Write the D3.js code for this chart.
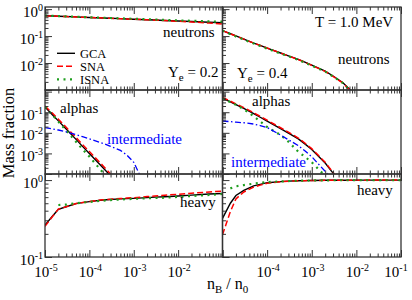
<!DOCTYPE html>
<html>
<head>
<meta charset="utf-8">
<script src="https://cdn.jsdelivr.net/npm/d3@7"></script>
<style>
  body { margin: 0; background: #fff; }
  svg { display: block; }
  text { font-family: "Liberation Serif", "Times New Roman", serif; fill: #000; }
</style>
</head>
<body>
<div id="chart"></div>
<script>
// nB / n0 sample points shared by every curve (curves may stop early)
const nGrid = [1e-5, 1.5e-5, 2e-5, 3e-5, 5e-5, 7e-5, 1e-4, 2e-4, 3e-4, 5e-4, 7e-4,
               1e-3, 2e-3, 3e-3, 5e-3, 1e-2, 2e-2, 5e-2, 1e-1];

// Ye = 0.2
const neutronGCA02  = [0.57, 0.556, 0.545, 0.531, 0.514, 0.502, 0.491, 0.47, 0.457, 0.443, 0.433, 0.423, 0.405, 0.394, 0.381, 0.365, 0.348, 0.328, 0.314];
const neutronSNA02  = [0.57, 0.556, 0.545, 0.531, 0.514, 0.502, 0.491, 0.47, 0.457, 0.443, 0.433, 0.423, 0.403, 0.39, 0.375, 0.355, 0.335, 0.305, 0.281];
const neutronISNA02 = [0.575, 0.562, 0.552, 0.538, 0.522, 0.51, 0.5, 0.48, 0.468, 0.455, 0.445, 0.437, 0.42, 0.41, 0.398, 0.383, 0.369, 0.352, 0.342];
const alphaGCA02  = [0.178, 0.072, 0.038, 0.0152, 0.0048, 0.0022, 0.00099, 0.000206, 0.000082];
const alphaSNA02  = [0.20, 0.086, 0.046, 0.0185, 0.0059, 0.0027, 0.00123, 0.00026, 0.0001];
const alphaISNA02 = [0.178, 0.070, 0.035, 0.013, 0.0037, 0.0016, 0.0007, 0.00012, 0.00004];
const interGCA02  = [0.018, 0.0153, 0.0137, 0.0112, 0.0081, 0.0065, 0.0051, 0.0031, 0.0022, 0.0014, 0.00083, 0.00037, 0.000016];
const heavyGCA02  = [0.26, 0.344, 0.417, 0.45, 0.495, 0.509, 0.525, 0.552, 0.56, 0.569, 0.574, 0.579, 0.592, 0.60, 0.608, 0.622, 0.638, 0.659, 0.668];
const heavySNA02  = [0.25, 0.34, 0.42, 0.45, 0.495, 0.51, 0.525, 0.555, 0.565, 0.575, 0.583, 0.59, 0.61, 0.62, 0.635, 0.655, 0.675, 0.70, 0.72];
const heavyISNA02 = [null, null, 0.474, 0.48, 0.50, 0.51, 0.52, 0.54, 0.55, 0.56, 0.565, 0.57, 0.58, 0.585, 0.59, 0.605, 0.62, 0.64, 0.66];

// Ye = 0.4
const neutronGCA04  = [0.160, 0.122, 0.101, 0.077, 0.055, 0.045, 0.036, 0.0236, 0.0185, 0.0136, 0.0108, 0.0083, 0.0050, 0.0033, 0.00186, 0.0006];
const neutronSNA04  = [0.160, 0.122, 0.101, 0.077, 0.055, 0.045, 0.036, 0.0236, 0.0184, 0.0135, 0.0107, 0.0082, 0.0049, 0.0032, 0.0018, 0.00057];
const neutronISNA04 = [0.157, 0.118, 0.097, 0.074, 0.053, 0.043, 0.034, 0.0225, 0.0178, 0.0131, 0.0104, 0.0080, 0.0048, 0.0032, 0.0018, 0.00057];
const alphaGCA04  = [0.48, 0.315, 0.232, 0.152, 0.086, 0.057, 0.037, 0.016, 0.0097, 0.0051, 0.0029, 0.00154, 0.00034, 0.00011, 0.000025];
const alphaSNA04  = [0.53, 0.345, 0.255, 0.167, 0.095, 0.063, 0.041, 0.0176, 0.0107, 0.0056, 0.0032, 0.0017, 0.00037, 0.00012, 0.00003];
const alphaISNA04 = [0.474, 0.31, 0.23, 0.14, 0.064, 0.036, 0.0192, 0.0078, 0.0037, 0.0012, 0.00069, 0.00037, 0.00008];
const interGCA04  = [0.0374, 0.0348, 0.033, 0.0308, 0.0267, 0.0225, 0.018, 0.0078, 0.0046, 0.0024, 0.00134, 0.00069, 0.000134, 0.00005];
const heavyGCA04  = [0.318, 0.50, 0.63, 0.733, 0.84, 0.88, 0.925, 0.955, 0.97, 0.98, 0.984, 0.988, 0.993, 0.995, 0.997, 0.998, 0.999, 1.0, 1.0];
const heavySNA04  = [0.195, 0.39, 0.57, 0.70, 0.81, 0.86, 0.91, 0.95, 0.968, 0.979, 0.984, 0.988, 0.993, 0.995, 0.997, 0.998, 0.999, 1.0, 1.0];
const heavyISNA04 = [null, 0.78, 0.83, 0.86, 0.90, 0.92, 0.94, 0.96, 0.972, 0.98, 0.985, 0.988, 0.993, 0.995, 0.997, 0.998, 0.999, 1.0, 1.0];

// tick labels (powers of ten)
const yLabelExps = [[0, -1, -2], [-1, -2, -3], [0, -1]];
const xLabelExps = [[-5, -4, -3, -2], [-4, -3, -2, -1]];
const legendNames = ['GCA', 'SNA', 'ISNA'];

const width = 412, height = 300;
const colX = [[45, 222.5], [222.5, 401]];
const rowY = [[7, 90], [90, 174], [174, 257]];
const xDomain = [1e-5, 1e-1];
const yDomains = [[1e-3, 1.2], [1e-4, 1.2], [0.1, 1.2]];
const axisColor = '#333';

const styles = {
    GCA:   { stroke: '#000000', width: 1.4, dash: null },
    SNA:   { stroke: '#ff0000', width: 1.5, dash: '6,3' },
    ISNA:  { stroke: '#1e9e1e', width: 2.2, dash: '2,4.5' },
    inter: { stroke: '#0000ff', width: 1.3, dash: '6,2.5,1.5,2.5' }
};

const panels = [
    { col: 0, row: 0, curves: [['GCA', neutronGCA02], ['SNA', neutronSNA02], ['ISNA', neutronISNA02]] },
    { col: 0, row: 1, curves: [['GCA', alphaGCA02], ['SNA', alphaSNA02], ['ISNA', alphaISNA02], ['inter', interGCA02]] },
    { col: 0, row: 2, curves: [['GCA', heavyGCA02], ['SNA', heavySNA02], ['ISNA', heavyISNA02]] },
    { col: 1, row: 0, curves: [['GCA', neutronGCA04], ['SNA', neutronSNA04], ['ISNA', neutronISNA04]] },
    { col: 1, row: 1, curves: [['GCA', alphaGCA04], ['SNA', alphaSNA04], ['ISNA', alphaISNA04], ['inter', interGCA04]] },
    { col: 1, row: 2, curves: [['GCA', heavyGCA04], ['SNA', heavySNA04], ['ISNA', heavyISNA04]] }
];

// log ticks inside a domain: decades and 2..9 minors
const logTicks = ([lo, hi]) => {
    const major = [], minor = [];
    for (let e = Math.floor(Math.log10(lo)) - 1; e <= Math.ceil(Math.log10(hi)); e++) {
        for (let k = 1; k <= 9; k++) {
            const v = k * Math.pow(10, e);
            if (v < lo * 0.999 || v > hi * 1.001) continue;
            (k === 1 ? major : minor).push(v);
        }
    }
    return { major, minor };
};

const svg = d3.select('#chart').append('svg').attr('width', width).attr('height', height);
const defs = svg.append('defs');

const xScales = colX.map(range => d3.scaleLog().domain(xDomain).range(range));
const yScales = rowY.map((range, i) => d3.scaleLog().domain(yDomains[i]).range([range[1], range[0]]));

const line = (x, y) => d3.line()
    .defined(d => d[1] != null)
    .x(d => x(d[0]))
    .y(d => y(d[1]));

// Plot curves, clipped to each panel
panels.forEach(p => {
    const x = xScales[p.col], y = yScales[p.row];
    const [x0, x1] = colX[p.col], [y0, y1] = rowY[p.row];
    const id = `clip-${p.col}-${p.row}`;
    defs.append('clipPath').attr('id', id)
        .append('rect').attr('x', x0).attr('y', y0).attr('width', x1 - x0).attr('height', y1 - y0);
    const g = svg.append('g').attr('clip-path', `url(#${id})`);
    g.selectAll('path').data(p.curves)
        .join('path')
        .attr('fill', 'none')
        .attr('stroke', ([key]) => styles[key].stroke)
        .attr('stroke-width', ([key]) => styles[key].width)
        .attr('stroke-dasharray', ([key]) => styles[key].dash)
        .attr('d', ([, values]) => line(x, y)(values.map((v, i) => [nGrid[i], v])));
});

// Frames and inward ticks (left, top, bottom of every panel)
const xTicks = logTicks(xDomain);
panels.forEach(p => {
    const x = xScales[p.col], y = yScales[p.row];
    const [x0, x1] = colX[p.col], [y0, y1] = rowY[p.row];
    const yTicks = logTicks(yDomains[p.row]);
    const g = svg.append('g').attr('color', axisColor);
    const addAxis = (axis, transform) => g.append('g').attr('transform', transform)
        .call(axis.tickFormat(''))
        .call(s => s.select('.domain').remove());
    addAxis(d3.axisBottom(x).tickValues(xTicks.major).tickSize(-7), `translate(0,${y1})`);
    addAxis(d3.axisBottom(x).tickValues(xTicks.minor).tickSize(-3.5), `translate(0,${y1})`);
    addAxis(d3.axisTop(x).tickValues(xTicks.major).tickSize(-7), `translate(0,${y0})`);
    addAxis(d3.axisTop(x).tickValues(xTicks.minor).tickSize(-3.5), `translate(0,${y0})`);
    addAxis(d3.axisLeft(y).tickValues(yTicks.major).tickSize(-7), `translate(${x0},0)`);
    addAxis(d3.axisLeft(y).tickValues(yTicks.minor).tickSize(-3.5), `translate(${x0},0)`);
    g.selectAll('line').attr('stroke-width', 1);
    g.append('rect')
        .attr('x', x0).attr('y', y0).attr('width', x1 - x0).attr('height', y1 - y0)
        .attr('fill', 'none').attr('stroke', axisColor).attr('stroke-width', 1.3);
});

// Power-of-ten tick labels
const powerLabel = (sel, exp) => {
    sel.append('tspan').text('10');
    sel.append('tspan').attr('font-size', 10).attr('dy', -6).text(exp);
};
yLabelExps.forEach((exps, row) => {
    svg.append('g').selectAll('text').data(exps)
        .join('text')
        .attr('font-size', 15)
        .attr('text-anchor', 'end')
        .attr('x', 43)
        .attr('y', e => yScales[row](Math.pow(10, e)) + 7.5)
        .each(function(e) { powerLabel(d3.select(this), e); });
});
xLabelExps.forEach((exps, col) => {
    svg.append('g').selectAll('text').data(exps)
        .join('text')
        .attr('font-size', 15)
        .attr('text-anchor', 'middle')
        .attr('x', e => Math.min(xScales[col](Math.pow(10, e)) + 1, width - 16))
        .attr('y', 277)
        .each(function(e) { powerLabel(d3.select(this), e); });
});

// Axis titles
svg.append('text')
    .attr('font-size', 16.5)
    .attr('text-anchor', 'middle')
    .attr('transform', 'translate(14,133) rotate(-90)')
    .text('Mass fraction');
const xTitle = svg.append('text').attr('font-size', 16).attr('x', 207).attr('y', 289);
xTitle.append('tspan').text('n');
xTitle.append('tspan').attr('font-size', 11).attr('dy', 4).text('B');
xTitle.append('tspan').attr('dy', -4).text(' / n');
xTitle.append('tspan').attr('font-size', 11).attr('dy', 4).text('0');

// Panel annotations
const annotations = [
    { text: 'neutrons', x: 163, y: 37 },
    { text: 'neutrons', x: 338, y: 63.5 },
    { text: 'T = 1.0 MeV', x: 315, y: 26.5 },
    { text: 'alphas', x: 60, y: 113 },
    { text: 'alphas', x: 252, y: 105.5 },
    { text: 'intermediate', x: 107, y: 143.5, color: '#0000ff' },
    { text: 'intermediate', x: 231, y: 166.5, color: '#0000ff' },
    { text: 'heavy', x: 180, y: 206.5 },
    { text: 'heavy', x: 357, y: 195 }
];
svg.append('g').selectAll('text').data(annotations)
    .join('text')
    .attr('font-size', 15)
    .attr('x', d => d.x)
    .attr('y', d => d.y)
    .style('fill', d => d.color || '#000')
    .text(d => d.text);

const yeLabels = [{ value: '0.2', x: 168, y: 77 }, { value: '0.4', x: 237, y: 78 }];
yeLabels.forEach(d => {
    const t = svg.append('text').attr('font-size', 15).attr('x', d.x).attr('y', d.y);
    t.append('tspan').text('Y');
    t.append('tspan').attr('font-size', 11).attr('dy', 3.5).text('e');
    t.append('tspan').attr('dy', -3.5).text(` = ${d.value}`);
});

// Legend
const legend = svg.append('g').selectAll('g').data(legendNames)
    .join('g')
    .attr('transform', (name, i) => `translate(57, ${53.3 + i * 13})`);
legend.append('line')
    .attr('x1', 0).attr('x2', 18)
    .attr('stroke', name => styles[name].stroke)
    .attr('stroke-width', name => styles[name].width)
    .attr('stroke-dasharray', name => styles[name].dash);
legend.append('text')
    .attr('font-size', 12.5)
    .attr('x', 23)
    .attr('y', 4.3)
    .text(name => name);
</script>
</body>
</html>
